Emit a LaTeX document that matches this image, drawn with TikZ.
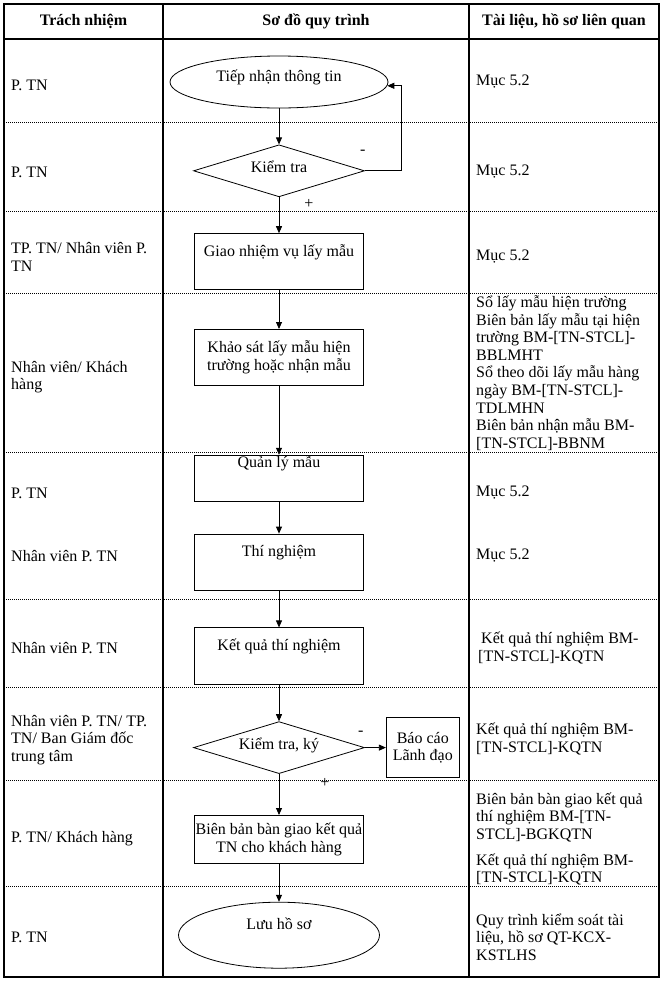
\documentclass[tikz,border=0pt]{standalone}
\usepackage{fontspec}
\setmainfont{Liberation Serif}
\usepackage{tikz}
\usetikzlibrary{positioning,shapes,arrows,arrows.meta}

\begin{document}
\begin{tikzpicture}[
    x=1pt, y=-1pt,
    every node/.style={font=\fontsize{16}{17.6}\selectfont},
    cell/.style={anchor=west, align=left, inner sep=0pt},
    head/.style={font=\fontsize{16}{17.6}\selectfont\bfseries, inner sep=0pt},
    frame/.style={line width=1.2pt},
    rowline/.style={line width=0.7pt, dash pattern=on 1pt off 1pt},
    procbox/.style={rectangle, draw, fill=white, line width=0.8pt, minimum width=169pt, minimum height=56pt, inner sep=0.5pt, text height=12pt, text depth=23pt},
    wrapbox/.style={rectangle, draw, fill=white, line width=0.8pt, minimum width=169pt, align=center, inner sep=1pt},
    terminal/.style={ellipse, draw, fill=white, line width=0.8pt, inner sep=0pt, text height=12pt},
    decision/.style={diamond, aspect=3.3, draw, fill=white, line width=0.8pt, minimum width=171pt, minimum height=52pt, inner sep=0pt, text height=11pt, text depth=8pt},
    arrow/.style={-{Triangle[length=7pt, width=6pt]}, line width=0.8pt},
    sign/.style={inner sep=0pt},
]
\useasboundingbox (0,0) rectangle (663,986);
% table
\draw[frame] (4,4) rectangle (659,977);
\draw[frame] (4,39) -- (659,39);
\draw[frame] (163,4) -- (163,977);
\draw[frame] (469,4) -- (469,977);
\foreach \y in {122,211,293,452,599,687,780,886}
    \draw[rowline] (4,\y) -- (659,\y);
\node[head] (h1) at (83.5,21) {Trách nhiệm};
\node[head] (h2) at (316,21) {Sơ đồ quy trình};
\node[head] (h3) at (564,21) {Tài liệu, hồ sơ liên quan};
% responsibility column
\node[cell] (r1) at (11,85) {P. TN};
\node[cell] (r2) at (11,172) {P. TN};
\node[cell] (r3) at (11,257) {TP. TN/ Nhân viên P.\\TN};
\node[cell] (r4) at (11,377) {Nhân viên/ Khách\\hàng};
\node[cell] (r5) at (11,493) {P. TN};
\node[cell] (r6) at (11,556) {Nhân viên P. TN};
\node[cell] (r7) at (11,648) {Nhân viên P. TN};
\node[cell] (r8) at (11,740) {Nhân viên P. TN/ TP.\\TN/ Ban Giám đốc\\trung tâm};
\node[cell] (r9) at (11,839) {P. TN/ Khách hàng};
\node[cell] (r10) at (11,937) {P. TN};
% documents column
\node[cell] (d1) at (476,82) {Mục 5.2};
\node[cell] (d2) at (476,172) {Mục 5.2};
\node[cell] (d3) at (476,257) {Mục 5.2};
\node[cell] (d4) at (476,373) {Sổ lấy mẫu hiện trường\\Biên bản lấy mẫu tại hiện\\trường BM-[TN-STCL]-\\BBLMHT\\Sổ theo dõi lấy mẫu hàng\\ngày BM-[TN-STCL]-\\TDLMHN\\Biên bản nhận mẫu BM-\\{}[TN-STCL]-BBNM};
\node[cell] (d5) at (476,493) {Mục 5.2};
\node[cell] (d6) at (476,556) {Mục 5.2};
\node[cell] (d7) at (478,648) {\hspace{3pt}Kết quả thí nghiệm BM-\\{}[TN-STCL]-KQTN};
\node[cell] (d8) at (476,739) {Kết quả thí nghiệm BM-\\{}[TN-STCL]-KQTN};
\node[cell] (d9) at (476,839) {Biên bản bàn giao kết quả\\thí nghiệm BM-[TN-\\STCL]-BGKQTN\\[8pt]Kết quả thí nghiệm BM-\\{}[TN-STCL]-KQTN};
\node[cell] (d10) at (476,937) {Quy trình kiểm soát tài\\liệu, hồ sơ QT-KCX-\\KSTLHS};
% flow
\node[terminal, minimum width=218pt, minimum height=52pt, text depth=13pt] (tiepnhan) at (279,82) {Tiếp nhận thông tin};
\node[decision, below=36pt of tiepnhan] (kiemtra1) {Kiểm tra};
\node[procbox, below=36pt of kiemtra1] (giaonv) {Giao nhiệm vụ lấy mẫu};
\node[wrapbox, minimum height=56pt, below=39pt of giaonv] (khaosat) {Khảo sát lấy mẫu hiện\\trường hoặc nhận mẫu};
\node[procbox, minimum height=46pt, inner ysep=0pt, text depth=33pt, below=69pt of khaosat] (quanly) {Quản lý mẫu};
\node[procbox, below=32pt of quanly] (thinghiem) {Thí nghiệm};
\node[procbox, minimum height=57pt, below=37pt of thinghiem] (ketqua) {Kết quả thí nghiệm};
\node[decision, below=36pt of ketqua] (kiemtra2) {Kiểm tra, ký};
\node[wrapbox, minimum width=73pt, minimum height=60pt, right=21pt of kiemtra2] (baocao) {Báo cáo\\Lãnh đạo};
\node[wrapbox, minimum height=48pt, below=41pt of kiemtra2] (bienban) {Biên bản bàn giao kết quả\\TN cho khách hàng};
\node[terminal, minimum width=201pt, minimum height=66pt, text depth=23pt, below=38pt of bienban] (luuhoso) {Lưu hồ sơ};
\node[sign] (neg1) at ([xshift=-2pt, yshift=18pt]kiemtra1.east) {-};
\node[sign] (pos1) at ([xshift=30pt, yshift=-7pt]kiemtra1.south) {+};
\node[sign] (neg2) at ([xshift=-4pt, yshift=14pt]kiemtra2.east) {-};
\node[sign] (pos2) at ([xshift=46pt, yshift=-9pt]kiemtra2.south) {+};
\draw[arrow] (tiepnhan) -- (kiemtra1);
\draw[arrow] (kiemtra1.east) -- ++(36,0) |- (tiepnhan.-2);
\draw[arrow] (kiemtra1) -- (giaonv);
\draw[arrow] (giaonv) -- (khaosat);
\draw[arrow] (khaosat) -- (quanly);
\draw[arrow] (quanly) -- (thinghiem);
\draw[arrow] (thinghiem) -- (ketqua);
\draw[arrow] (ketqua) -- (kiemtra2);
\draw[arrow] (kiemtra2) -- (baocao);
\draw[arrow] (kiemtra2) -- (bienban);
\draw[arrow] (bienban) -- (luuhoso);
\end{tikzpicture}
\end{document}
